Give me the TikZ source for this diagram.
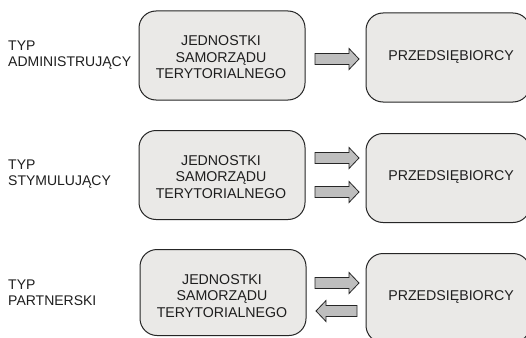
\documentclass[tikz,border=0pt]{standalone}
\usepackage{fontspec}
\setmainfont{Liberation Sans}
\definecolor{boxfill}{HTML}{EAE9E7}
\definecolor{arrfill}{HTML}{BEBEBE}
\definecolor{edge}{HTML}{262626}
\definecolor{txt}{HTML}{1E1E1E}
\tikzset{
  box/.style={draw=edge, line width=1pt, fill=boxfill, rounded corners=17pt, inner sep=0pt},
  lbl/.style={text=txt, font=\fontsize{14.2}{16.5}\selectfont, align=center, inner sep=0pt},
  typ/.style={text=txt, font=\fontsize{14}{15.5}\selectfont, align=left, anchor=north west, inner sep=0pt},
  blockarr/.style={draw=edge, line width=0.8pt, fill=arrfill, line join=miter},
}
\newcommand\rarr[3]{\draw[blockarr] (#1,#3-5.5) -- (#2-10,#3-5.5) -- (#2-10,#3-10.5) -- (#2,#3) -- (#2-10,#3+10.5) -- (#2-10,#3+5.5) -- (#1,#3+5.5) -- cycle;}
\newcommand\larr[3]{\draw[blockarr] (#2,#3-5.5) -- (#1+10,#3-5.5) -- (#1+10,#3-10.5) -- (#1,#3) -- (#1+10,#3+10.5) -- (#1+10,#3+5.5) -- (#2,#3+5.5) -- cycle;}
\begin{document}
\begin{tikzpicture}[x=1pt,y=-1pt]
\useasboundingbox[fill=white] (0,0) rectangle (526,337);
% row 1
\node[typ] (t1) at (8,41) {TYP\\ADMINISTRUJĄCY};
\node[box, minimum width=166pt, minimum height=89pt] (j1) at (222,55.5) {};
\node[lbl] (j1t) at (221,57.5) {JEDNOSTKI\\SAMORZĄDU\\TERYTORIALNEGO};
\node[box, minimum width=164pt, minimum height=89pt] (p1) at (448,57.5) {};
\node[lbl] (p1t) at (451,57) {PRZEDSIĘBIORCY};
\rarr{315}{359}{59}
% row 2
\node[typ] (t2) at (8,160) {TYP\\STYMULUJĄCY};
\node[box, minimum width=166pt, minimum height=89pt] (j2) at (222,175) {};
\node[lbl] (j2t) at (221,177) {JEDNOSTKI\\SAMORZĄDU\\TERYTORIALNEGO};
\node[box, minimum width=164pt, minimum height=89pt] (p2) at (448,178) {};
\node[lbl] (p2t) at (451,177) {PRZEDSIĘBIORCY};
\rarr{315}{359}{158}
\rarr{315}{359}{192}
% row 3
\node[typ] (t3) at (8,280) {TYP\\PARTNERSKI};
\node[box, minimum width=166pt, minimum height=86pt] (j3) at (223,292.5) {};
\node[lbl] (j3t) at (222,296) {JEDNOSTKI\\SAMORZĄDU\\TERYTORIALNEGO};
\node[box, minimum width=164pt, minimum height=89pt] (p3) at (448,298) {};
\node[lbl] (p3t) at (451,297) {PRZEDSIĘBIORCY};
\rarr{315}{359}{283}
\larr{316}{357}{311}
\end{tikzpicture}
\end{document}
